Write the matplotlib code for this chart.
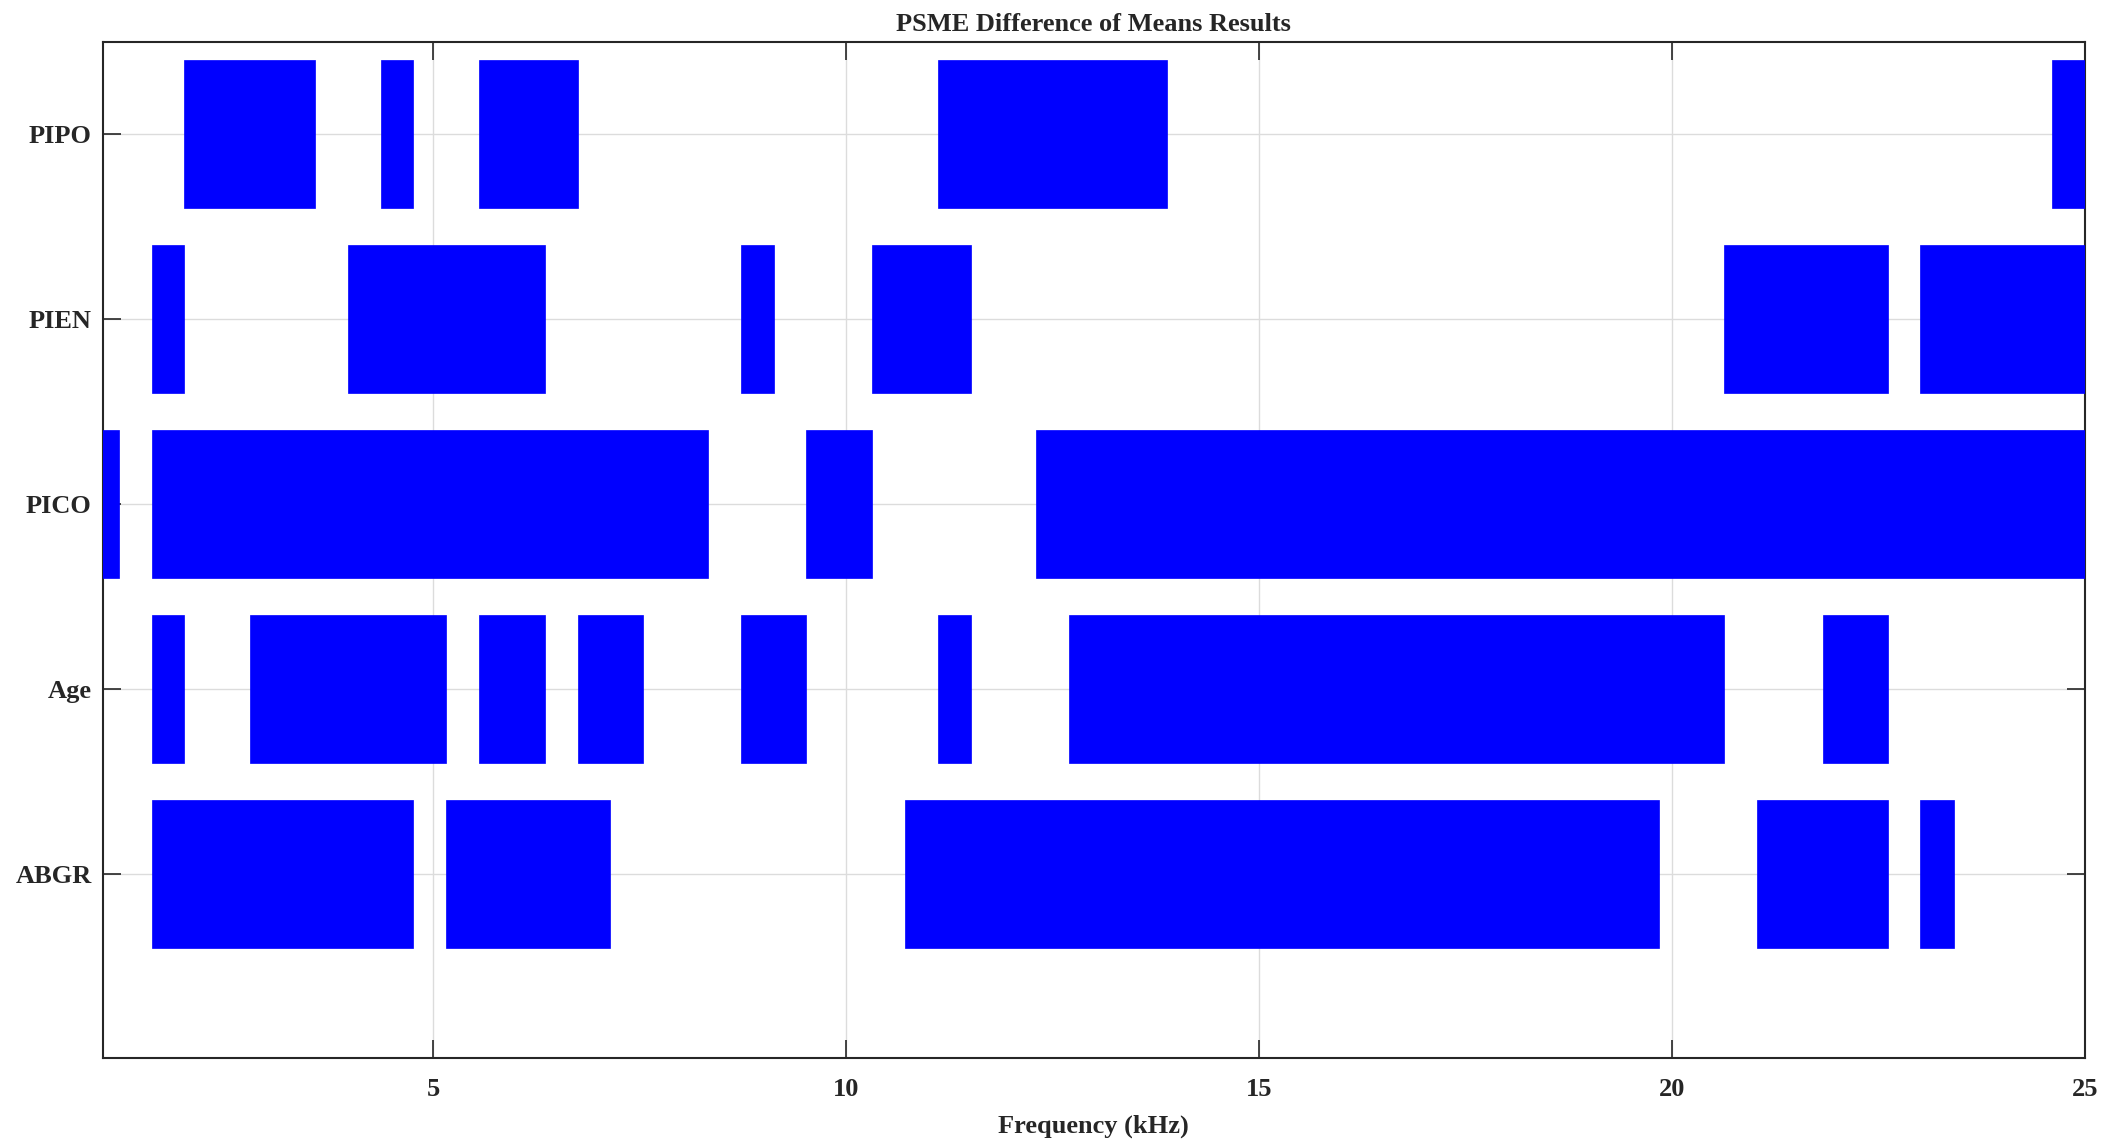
import numpy as np
import matplotlib.pyplot as plt

# categories, bottom to top
species = ['ABGR', 'Age', 'PICO', 'PIEN', 'PIPO']

# significant frequency ranges (kHz), start and end of each block
abgr_start = [1.59, 5.16, 10.71, 21.03, 23.01]
abgr_end = [4.76, 7.14, 19.84, 22.62, 23.41]

age_start = [1.59, 2.78, 5.56, 6.75, 8.73, 11.11, 12.70, 21.83]
age_end = [1.98, 5.16, 6.35, 7.54, 9.52, 11.51, 20.63, 22.62]

pico_start = [0.79, 1.59, 9.52, 12.30]
pico_end = [1.19, 8.33, 10.32, 25.00]

pien_start = [1.59, 3.97, 8.73, 10.32, 20.63, 23.01]
pien_end = [1.98, 6.35, 9.13, 11.51, 22.62, 25.00]

pipo_start = [1.98, 4.37, 5.56, 11.11, 24.60]
pipo_end = [3.57, 4.76, 6.75, 13.89, 25.00]

starts = [abgr_start, age_start, pico_start, pien_start, pipo_start]
ends = [abgr_end, age_end, pico_end, pien_end, pipo_end]

plt.rcParams['font.family'] = ['Liberation Serif', 'DejaVu Serif']
plt.rcParams['font.weight'] = 'bold'

fig = plt.figure(figsize=(21.2, 11.45), dpi=100)
ax = fig.add_axes([0.0485, 0.0756, 0.9349, 0.8878])

for i, name in enumerate(species):
    s = np.array(starts[i])
    e = np.array(ends[i])
    ax.barh(np.full(len(s), i + 1), e - s, left=s, height=0.8,
            color='#0000ff', edgecolor='#0000ff', lw=0.5, zorder=3)

ax.set_xlim(1, 25)
ax.set_ylim(0, 5.5)
ax.set_xticks([5, 10, 15, 20, 25])
ax.set_yticks(np.arange(1, 6))
ax.set_yticklabels(species)

ax.grid(True, color='#dcdcdc', lw=1, zorder=0)
ax.set_axisbelow(True)
ax.tick_params(direction='in', length=13, width=1.2, color='#262626',
               labelcolor='#262626', top=True, right=True, labelsize=19)
ax.tick_params(axis='x', pad=14)
ax.tick_params(axis='y', pad=8)
for sp in ax.spines.values():
    sp.set_color('#262626')
    sp.set_linewidth(1.5)

ax.set_title('PSME Difference of Means Results', fontsize=19, fontweight='bold',
             pad=8, color='#262626')
ax.set_xlabel('Frequency (kHz)', fontsize=19, fontweight='bold', labelpad=10,
              color='#262626')

fig.savefig('out.png', dpi=100)
